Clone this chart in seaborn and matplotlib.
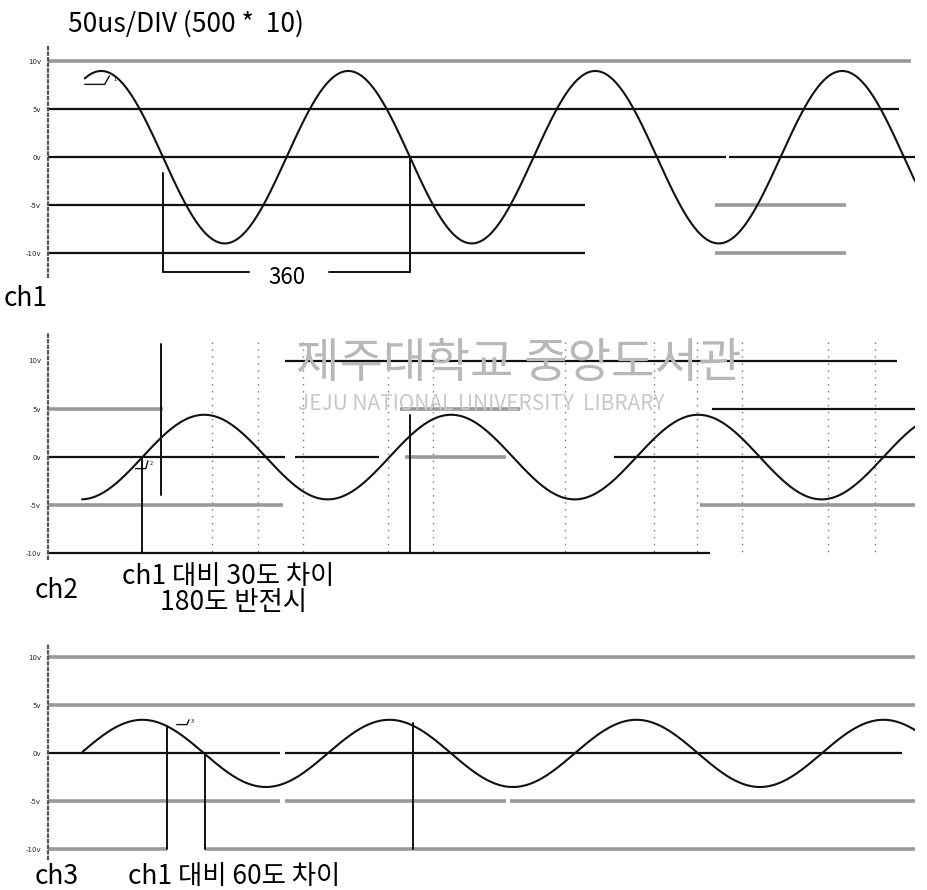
import numpy as np
import seaborn as sns
import matplotlib.pyplot as plt

# x axis in degrees of ch1 (one period = 360)
levels = [10, 5, 0, -5, -10]
level_labels = ['10v', '5v', '0v', '-5v', '-10v']

# channel waveforms
amp = {'ch1': 9.0, 'ch2': 4.4, 'ch3': 3.5}
phase = {'ch1': 0, 'ch2': 30, 'ch3': -60}       # degrees vs ch1
invert = {'ch1': False, 'ch2': True, 'ch3': False}
trace_start = {'ch1': 66, 'ch2': 62, 'ch3': 63}
trace_end = 1276

# grid level segments (start, end, colour) in degrees
ch1_segments = {
    10: [(12, 1270, 'g')],
    5: [(12, 1252, 'k')],
    0: [(12, 1000, 'k'), (1005, 1276, 'k')],
    -5: [(12, 795, 'k'), (985, 1175, 'g')],
    -10: [(12, 795, 'k'), (985, 1175, 'g')],
}
ch2_segments = {
    10: [(358, 1250, 'k')],
    5: [(12, 180, 'g'), (525, 700, 'g'), (980, 1276, 'k')],
    0: [(12, 358, 'k'), (372, 495, 'k'), (532, 680, 'g'), (838, 1276, 'k')],
    -5: [(12, 355, 'g'), (963, 1276, 'g')],
    -10: [(12, 977, 'k')],
}
ch3_segments = {
    10: [(12, 1280, 'g')],
    5: [(12, 1283, 'g')],
    0: [(12, 350, 'k'), (358, 1257, 'k')],
    -5: [(12, 350, 'g'), (358, 680, 'g'), (686, 1276, 'g')],
    -10: [(12, 186, 'g'), (241, 1280, 'g')],
}
segments = {'ch1': ch1_segments, 'ch2': ch2_segments, 'ch3': ch3_segments}

# vertical cursor lines (x, y_from, y_to)
cursors = {
    'ch1': [(180, -1.6, -12.0), (540, 0, -12.0)],
    'ch2': [(150, 0, -10), (177, 11.8, -3.9), (540, 4.4, -10)],
    'ch3': [(186, 2.9, -10), (241, 0, -10), (544, 3.2, -10)],
}
ch2_dotted = [212, 258, 303, 388, 433, 565, 654, 697, 742, 828, 875]

W, H = 928, 890
sns.set_style('white')
plt.rcParams['font.family'] = ['Noto Sans CJK KR', 'DejaVu Sans']
plt.rcParams['text.color'] = 'black'

fig = plt.figure(figsize=(W / 100, H / 100), dpi=100)

DEG_PX = 360 / 247.0
X0 = 39.5


def px2deg(px):
    return (px - X0) * DEG_PX


def add_ax(x0, y0, x1, y1):
    return fig.add_axes([x0 / W, 1 - y1 / H, (x1 - x0) / W, (y1 - y0) / H])


panels = {
    'ch1': (add_ax(48, 47, 915, 277), (-12.5, 11.5)),
    'ch2': (add_ax(48, 334, 915, 559), (-10.6, 12.8)),
    'ch3': (add_ax(48, 643, 915, 859), (-11.0, 11.5)),
}

for ch, (ax, ylim) in panels.items():
    ax.set_xlim(px2deg(48), px2deg(915))
    ax.set_ylim(*ylim)
    for s in ['top', 'right', 'bottom']:
        ax.spines[s].set_visible(False)
    ax.spines['left'].set_linestyle((0, (1, 1.5)))
    ax.spines['left'].set_linewidth(1.6)
    ax.spines['left'].set_color('#555555')
    ax.set_xticks([])
    ax.set_yticks(levels)
    ax.set_yticklabels(level_labels, fontsize=5, family='DejaVu Sans')
    ax.tick_params(axis='y', length=3, width=1, pad=2)

    for lev, segs in segments[ch].items():
        for a, b, c in segs:
            ax.plot([a, b], [lev, lev], color='#9a9a9a' if c == 'g' else '#111111',
                    lw=2.6 if c == 'g' else 1.6, solid_capstyle='butt', zorder=1)

    theta = np.linspace(trace_start[ch], trace_end, 600)
    sign = -1 if invert[ch] else 1
    volts = sign * amp[ch] * np.sin(np.radians(theta + phase[ch]))
    sns.lineplot(x=theta, y=volts, ax=ax, color='#111111', lw=1.5, zorder=3)

    for x, ya, yb in cursors[ch]:
        ax.plot([x, x], [ya, yb], color='#111111', lw=1.4, zorder=2)

ax1 = panels['ch1'][0]
ax2 = panels['ch2'][0]
ax3 = panels['ch3'][0]

# 360 bracket on ch1
ax1.plot([180, 305], [-12.0, -12.0], color='#111111', lw=1.4)
ax1.plot([422, 540], [-12.0, -12.0], color='#111111', lw=1.4)
ax1.text(360, -12.6, '360', ha='center', va='center', fontsize=16, clip_on=False)

# small trace markers
ax1.plot([66, 95, 102], [7.6, 7.6, 8.5], color='#111111', lw=1)
ax1.text(108, 8.0, '1', fontsize=4)
ax2.plot([140, 155, 158], [-1.2, -1.2, -0.4], color='#111111', lw=1)
ax2.text(160, -0.8, '2', fontsize=4)
ax3.plot([200, 215, 218], [3.0, 3.0, 3.5], color='#111111', lw=1)
ax3.text(220, 3.2, '3', fontsize=4)

for px in ch2_dotted:
    ax2.plot([px2deg(px)] * 2, [12, -10.4], color='#777777', lw=1,
             linestyle=(0, (1, 4)), zorder=0)

txt = dict(fontsize=19, va='center')
fig.text(68 / W, 1 - 24 / H, '50us/DIV (500 *  10)', **txt)
fig.text(4 / W, 1 - 298 / H, 'ch1', **txt)
fig.text(35 / W, 1 - 590 / H, 'ch2', **txt)
fig.text(122 / W, 1 - 576 / H, 'ch1 대비 30도 차이', **txt)
fig.text(160 / W, 1 - 603 / H, '180도 반전시', **txt)
fig.text(35 / W, 1 - 876 / H, 'ch3', **txt)
fig.text(128 / W, 1 - 876 / H, 'ch1 대비 60도 차이', **txt)

# library watermark
fig.text(296 / W, 1 - 364 / H, '제주대학교 중앙도서관', fontsize=34, color='#b8b8b8',
         va='center', zorder=0)
fig.text(298 / W, 1 - 404 / H, 'JEJU NATIONAL UNIVERSITY  LIBRARY', fontsize=15,
         color='#c8c8c8', va='center', zorder=0)

fig.savefig('out.png', dpi=100, facecolor='white')
